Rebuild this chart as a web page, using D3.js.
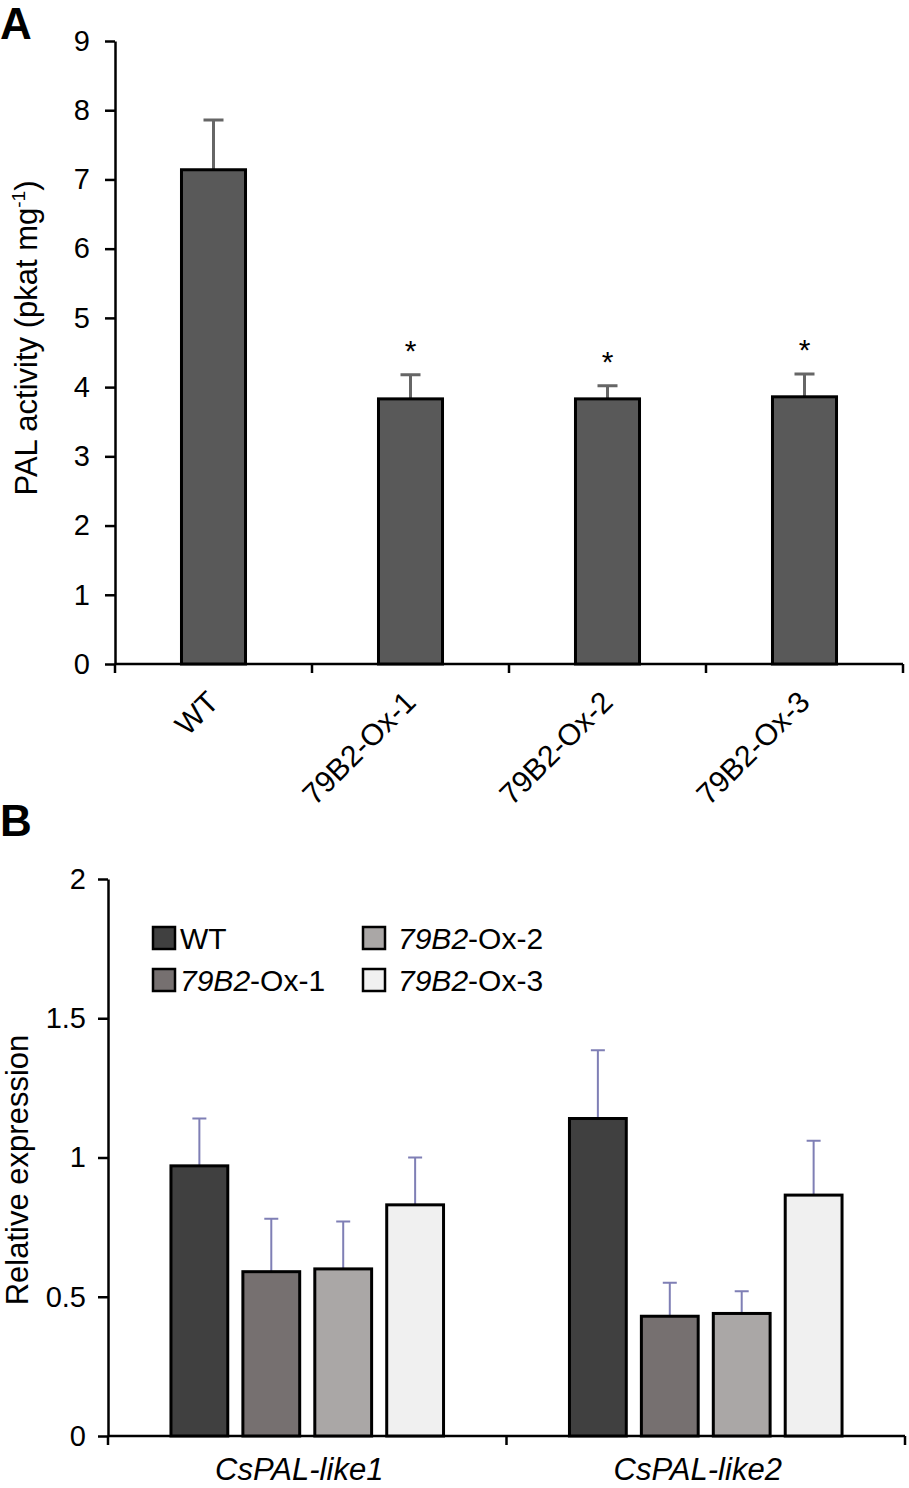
<!DOCTYPE html>
<html>
<head>
<meta charset="utf-8">
<script src="https://cdn.jsdelivr.net/npm/d3@7"></script>
<style>
  body { margin: 0; background: #fff; }
  svg { display: block; font-family: "Liberation Sans", Arial, sans-serif; }
</style>
</head>
<body>
<svg id="chart" width="909" height="1488"></svg>
<script>
// panel A: PAL activity
var linesA = ["WT", "79B2-Ox-1", "79B2-Ox-2", "79B2-Ox-3"];
var palMean = [7.14, 3.83, 3.83, 3.86];
var palErr = [0.72, 0.35, 0.19, 0.33];
var palStar = [false, true, true, true];
var ticksA = [0, 1, 2, 3, 4, 5, 6, 7, 8, 9];

// panel B: relative expression
var genes = ["CsPAL-like1", "CsPAL-like2"];
var seriesB = ["WT", "79B2-Ox-1", "79B2-Ox-2", "79B2-Ox-3"];
var exprMean = [
  [0.97, 0.59, 0.60, 0.83],   // CsPAL-like1
  [1.14, 0.43, 0.44, 0.865]   // CsPAL-like2
];
var exprErr = [
  [0.17, 0.19, 0.17, 0.17],
  [0.245, 0.12, 0.08, 0.195]
];
var ticksB = [0, 0.5, 1, 1.5, 2];
var colorsB = ["#404040", "#767070", "#aaa7a6", "#f0f0f0"];

var svg = d3.select("#chart");
var tickFont = 29;

// draws a strain name, "79B2" italic and the rest upright
function strainText(sel, name) {
  if (name.indexOf("79B2") == 0) {
    sel.append("tspan").style("font-style", "italic").text("79B2");
    sel.append("tspan").text(name.slice(4));
  } else {
    sel.text(name);
  }
}

// ---------- panel A ----------
var yA = d3.scaleLinear().domain([0, 9]).range([664, 41]);
var xA = d3.scaleBand().domain(linesA).range([115, 903]).padding(0);
var barWA = xA.bandwidth() * 0.325;

var gA = svg.append("g");

gA.append("text")
  .attr("x", 0).attr("y", 39)
  .attr("font-size", 44).attr("font-weight", "bold")
  .text("A");

var axA = gA.append("g")
  .attr("transform", "translate(115,0)")
  .call(d3.axisLeft(yA).tickValues(ticksA).tickSize(10).tickSizeOuter(0).tickPadding(15));
axA.selectAll("text").attr("font-size", tickFont).attr("fill", "#000").attr("font-family", null);
axA.selectAll("line, path").attr("stroke", "#000").attr("stroke-width", 2.5);

// x axis line with ticks between categories
gA.append("line")
  .attr("x1", xA.range()[0]).attr("x2", xA.range()[1])
  .attr("y1", yA(0)).attr("y2", yA(0))
  .attr("stroke", "#000").attr("stroke-width", 2.5);
gA.selectAll(".sep")
  .data(linesA.map(function(d) { return xA(d); }).concat([xA.range()[1]]))
  .enter().append("line")
  .attr("x1", function(d) { return d; }).attr("x2", function(d) { return d; })
  .attr("y1", yA(0)).attr("y2", yA(0) + 9)
  .attr("stroke", "#000").attr("stroke-width", 2.5);

// error bars (drawn under bars)
gA.selectAll(".errA")
  .data(linesA)
  .enter().append("path")
  .attr("d", function(d, i) {
    var cx = xA(d) + xA.bandwidth() / 2;
    var top = yA(palMean[i] + palErr[i]);
    return "M" + cx + "," + yA(palMean[i]) + "V" + top + "M" + (cx - 10) + "," + top + "H" + (cx + 10);
  })
  .attr("stroke", "#666").attr("stroke-width", 3).attr("fill", "none");

gA.selectAll(".barA")
  .data(linesA)
  .enter().append("rect")
  .attr("x", function(d) { return xA(d) + (xA.bandwidth() - barWA) / 2; })
  .attr("y", function(d, i) { return yA(palMean[i]); })
  .attr("width", barWA)
  .attr("height", function(d, i) { return yA(0) - yA(palMean[i]); })
  .attr("fill", "#595959").attr("stroke", "#000").attr("stroke-width", 3);

gA.selectAll(".star")
  .data(linesA.filter(function(d, i) { return palStar[i]; }))
  .enter().append("text")
  .attr("x", function(d) { return xA(d) + xA.bandwidth() / 2; })
  .attr("y", function(d) { var i = linesA.indexOf(d); return yA(palMean[i] + palErr[i]) - 14; })
  .attr("text-anchor", "middle").attr("font-size", 30)
  .text("*");

gA.selectAll(".labA")
  .data(linesA)
  .enter().append("text")
  .attr("transform", function(d) {
    return "translate(" + (xA(d) + xA.bandwidth() / 2 + 7) + "," + (yA(0) + 40) + ") rotate(-45)";
  })
  .attr("text-anchor", "end").attr("font-size", 30)
  .text(function(d) { return d; });

var titleA = gA.append("text")
  .attr("transform", "translate(37,338) rotate(-90)")
  .attr("text-anchor", "middle").attr("font-size", 31);
titleA.append("tspan").text("PAL activity (pkat mg");
titleA.append("tspan").attr("font-size", 19).attr("dy", -12).text("-1");
titleA.append("tspan").attr("dy", 12).text(")");

// ---------- panel B ----------
var yB = d3.scaleLinear().domain([0, 2]).range([1436, 879]);
var x0 = d3.scaleBand().domain(genes).range([108, 905]).padding(0);
var x1 = d3.scaleBand().domain(seriesB)
  .range([x0.bandwidth() * 0.158, x0.bandwidth() * 0.842])
  .paddingInner(0.21).paddingOuter(0);

var gB = svg.append("g");

gB.append("text")
  .attr("x", 0).attr("y", 836)
  .attr("font-size", 44).attr("font-weight", "bold")
  .text("B");

var axB = gB.append("g")
  .attr("transform", "translate(108,0)")
  .call(d3.axisLeft(yB).tickValues(ticksB).tickSize(10).tickSizeOuter(0).tickPadding(12)
    .tickFormat(function(d) { return d; }));
axB.selectAll("text").attr("font-size", tickFont).attr("fill", "#000").attr("font-family", null);
axB.selectAll("line, path").attr("stroke", "#000").attr("stroke-width", 2.5);

gB.append("line")
  .attr("x1", x0.range()[0]).attr("x2", x0.range()[1])
  .attr("y1", yB(0)).attr("y2", yB(0))
  .attr("stroke", "#000").attr("stroke-width", 2.5);
gB.selectAll(".sepB")
  .data(genes.map(function(d) { return x0(d); }).concat([x0.range()[1]]))
  .enter().append("line")
  .attr("x1", function(d) { return d; }).attr("x2", function(d) { return d; })
  .attr("y1", yB(0)).attr("y2", yB(0) + 9)
  .attr("stroke", "#000").attr("stroke-width", 2.5);

var groups = gB.selectAll(".grp")
  .data(genes)
  .enter().append("g")
  .attr("transform", function(d) { return "translate(" + x0(d) + ",0)"; });

groups.each(function(gene, gi) {
  var g = d3.select(this);
  g.selectAll(".err")
    .data(seriesB)
    .enter().append("path")
    .attr("d", function(s, si) {
      var cx = x1(s) + x1.bandwidth() / 2;
      var top = yB(exprMean[gi][si] + exprErr[gi][si]);
      return "M" + cx + "," + yB(exprMean[gi][si]) + "V" + top + "M" + (cx - 7) + "," + top + "H" + (cx + 7);
    })
    .attr("stroke", "#7f7fb5").attr("stroke-width", 2).attr("fill", "none");
  g.selectAll(".bar")
    .data(seriesB)
    .enter().append("rect")
    .attr("x", function(s) { return x1(s); })
    .attr("y", function(s, si) { return yB(exprMean[gi][si]); })
    .attr("width", x1.bandwidth())
    .attr("height", function(s, si) { return yB(0) - yB(exprMean[gi][si]); })
    .attr("fill", function(s, si) { return colorsB[si]; })
    .attr("stroke", "#000").attr("stroke-width", 3);
});

gB.selectAll(".labB")
  .data(genes)
  .enter().append("text")
  .attr("x", function(d) { return x0(d) + x0.bandwidth() / 2 - 8; })
  .attr("y", 1480)
  .attr("text-anchor", "middle").attr("font-size", 31).attr("font-style", "italic")
  .text(function(d) { return d; });

gB.append("text")
  .attr("transform", "translate(28,1170) rotate(-90)")
  .attr("text-anchor", "middle").attr("font-size", 31)
  .text("Relative expression");

// legend, two columns
var legend = gB.selectAll(".leg")
  .data(seriesB)
  .enter().append("g")
  .attr("transform", function(d, i) {
    return "translate(" + (i < 2 ? 153 : 363) + "," + (i % 2 == 0 ? 927 : 969) + ")";
  });
legend.append("rect")
  .attr("width", 22).attr("height", 22)
  .attr("fill", function(d, i) { return colorsB[i]; })
  .attr("stroke", "#000").attr("stroke-width", 2.5);
legend.append("text")
  .attr("x", function(d, i) { return i < 2 ? 27 : 35; })
  .attr("y", 22)
  .attr("font-size", 30)
  .each(function(d) { strainText(d3.select(this), d); });
</script>
</body>
</html>
